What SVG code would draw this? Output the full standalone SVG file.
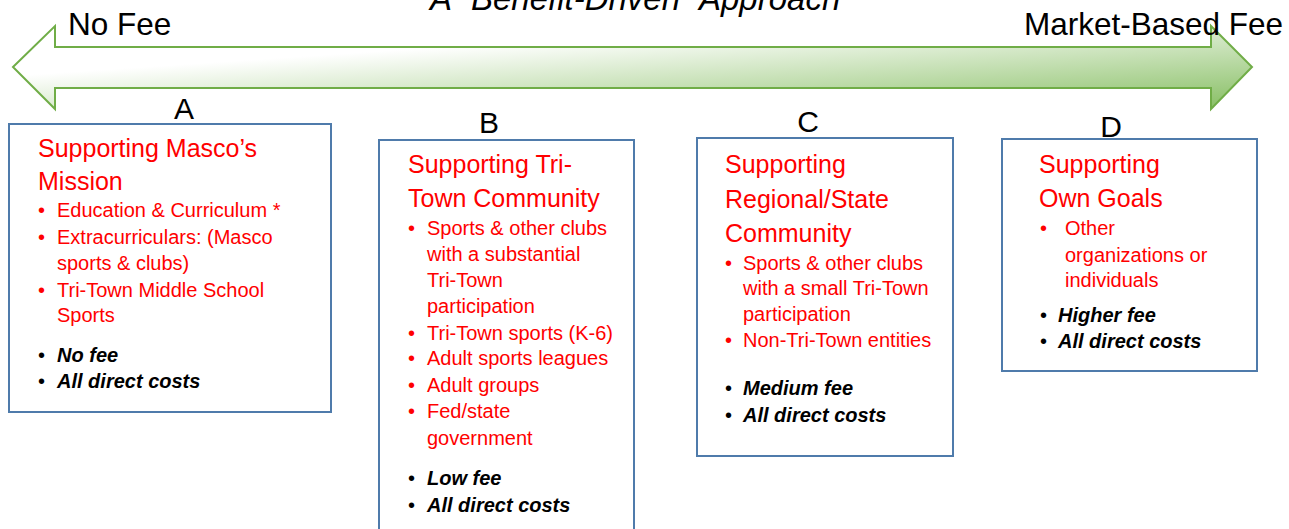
<svg xmlns="http://www.w3.org/2000/svg" width="1289" height="529" viewBox="0 0 1289 529">
<defs>
<linearGradient id="arrowFill" x1="0" y1="0" x2="1" y2="1">
<stop offset="0" stop-color="#ffffff"/>
<stop offset="0.3" stop-color="#ffffff"/>
<stop offset="1" stop-color="#86be62"/>
</linearGradient>
<style>
text{font-family:"Liberation Sans",Arial,sans-serif;}
.box{fill:#ffffff;stroke:#4f7bab;stroke-width:2;}
.h{fill:#ff0000;font-size:25px;}
.r{fill:#ff0000;font-size:20px;}
.k{fill:#000000;font-size:20px;font-weight:bold;font-style:italic;}
.kb{fill:#000000;font-size:20px;}
.lab{fill:#000000;font-size:30px;}
.end{fill:#000000;font-size:31.5px;}
</style>
</defs>
<text x="430" y="10" style="font-size:33px;font-style:italic;fill:#000">A “Benefit-Driven” Approach</text>
<g id="connectors">
<path d="M13,67 L55,26 L55,47 L1211,47 L1211,26 L1252,67 L1211,109 L1211,88 L55,88 L55,109 Z" fill="url(#arrowFill)" stroke="#70ad47" stroke-width="2"/>
</g>
<text class="end" x="68" y="35">No Fee</text>
<text class="end" x="1024" y="35">Market-Based Fee</text>
<g id="nodeA">
<text class="lab" x="184" y="119" text-anchor="middle">A</text>
<rect class="box" x="9" y="124" width="322" height="288"/>
<text class="h" x="38" y="157">Supporting Masco’s</text>
<text class="h" x="38" y="190">Mission</text>
<text class="r" x="38" y="217">•</text><text class="r" x="57" y="217">Education &amp; Curriculum *</text>
<text class="r" x="38" y="244">•</text><text class="r" x="57" y="244">Extracurriculars: (Masco</text>
<text class="r" x="57" y="270">sports &amp; clubs)</text>
<text class="r" x="38" y="297">•</text><text class="r" x="57" y="297">Tri-Town Middle School</text>
<text class="r" x="57" y="322">Sports</text>
<text class="kb" x="38" y="362">•</text><text class="k" x="57" y="362">No fee</text>
<text class="kb" x="38" y="388">•</text><text class="k" x="57" y="388">All direct costs</text>
</g>
<g id="nodeB">
<text class="lab" x="489" y="133" text-anchor="middle">B</text>
<rect class="box" x="379" y="140" width="255" height="400"/>
<text class="h" x="408" y="173">Supporting Tri-</text>
<text class="h" x="408" y="207">Town Community</text>
<text class="r" x="408" y="235">•</text><text class="r" x="427" y="235">Sports &amp; other clubs</text>
<text class="r" x="427" y="261">with a substantial</text>
<text class="r" x="427" y="287">Tri-Town</text>
<text class="r" x="427" y="313">participation</text>
<text class="r" x="408" y="340">•</text><text class="r" x="427" y="340">Tri-Town sports (K-6)</text>
<text class="r" x="408" y="365">•</text><text class="r" x="427" y="365">Adult sports leagues</text>
<text class="r" x="408" y="392">•</text><text class="r" x="427" y="392">Adult groups</text>
<text class="r" x="408" y="418">•</text><text class="r" x="427" y="418">Fed/state</text>
<text class="r" x="427" y="445">government</text>
<text class="kb" x="408" y="485">•</text><text class="k" x="427" y="485">Low fee</text>
<text class="kb" x="408" y="512">•</text><text class="k" x="427" y="512">All direct costs</text>
</g>
<g id="nodeC">
<text class="lab" x="808" y="132" text-anchor="middle">C</text>
<rect class="box" x="697" y="138" width="256" height="318"/>
<text class="h" x="725" y="173">Supporting</text>
<text class="h" x="725" y="208">Regional/State</text>
<text class="h" x="725" y="242">Community</text>
<text class="r" x="725" y="270">•</text><text class="r" x="743" y="270">Sports &amp; other clubs</text>
<text class="r" x="743" y="295">with a small Tri-Town</text>
<text class="r" x="743" y="321">participation</text>
<text class="r" x="725" y="347">•</text><text class="r" x="743" y="347">Non-Tri-Town entities</text>
<text class="kb" x="725" y="395">•</text><text class="k" x="743" y="395">Medium fee</text>
<text class="kb" x="725" y="422">•</text><text class="k" x="743" y="422">All direct costs</text>
</g>
<g id="nodeD">
<text class="lab" x="1111" y="137" text-anchor="middle">D</text>
<rect class="box" x="1002" y="139" width="255" height="232"/>
<text class="h" x="1039" y="173">Supporting</text>
<text class="h" x="1039" y="207">Own Goals</text>
<text class="r" x="1040" y="235">•</text><text class="r" x="1065" y="235">Other</text>
<text class="r" x="1065" y="262">organizations or</text>
<text class="r" x="1065" y="287">individuals</text>
<text class="kb" x="1040" y="322">•</text><text class="k" x="1058" y="322">Higher fee</text>
<text class="kb" x="1040" y="348">•</text><text class="k" x="1058" y="348">All direct costs</text>
</g>
</svg>
